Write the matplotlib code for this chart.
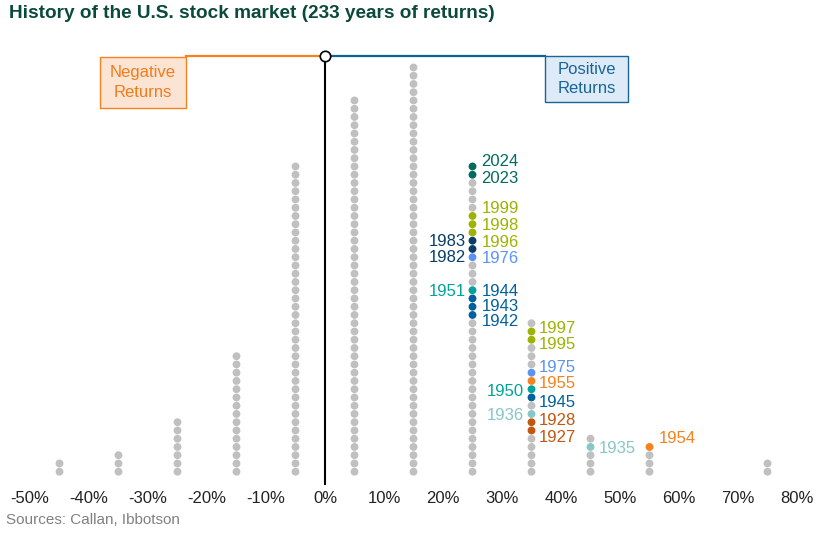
import matplotlib.pyplot as plt
from matplotlib.patches import Rectangle

# return bins (centre of each 10% band) and how many years fell in each
bins = [-45, -35, -25, -15, -5, 5, 15, 25, 35, 45, 55, 75]
counts = [2, 3, 7, 15, 38, 46, 50, 38, 19, 5, 4, 2]

# highlighted years: bin and position counted from the top of the column
years = [2024, 2023, 1999, 1998, 1996, 1983, 1982, 1976, 1951, 1944, 1943, 1942,
         1997, 1995, 1975, 1955, 1950, 1945, 1936, 1928, 1927,
         1935, 1954]
year_bin = [25, 25, 25, 25, 25, 25, 25, 25, 25, 25, 25, 25,
            35, 35, 35, 35, 35, 35, 35, 35, 35,
            45, 55]
year_rank = [0, 1, 6, 7, 8, 9, 10, 11, 15, 16, 17, 18,
             1, 2, 6, 7, 8, 9, 11, 12, 13,
             1, 0]

tick_vals = list(range(-50, 81, 10))
tick_labels = ['%d%%' % v for v in tick_vals]

# colours
c_teal_dk = '#006B5E'
c_olive = '#9CB300'
c_navy = '#083E66'
c_sky = '#5B93F2'
c_teal = '#00A39A'
c_blue = '#00619C'
c_orange = '#F5821F'
c_mint = '#88C6C7'
c_brown = '#C2570E'
year_color = [c_teal_dk, c_teal_dk, c_olive, c_olive, c_olive, c_navy, c_navy, c_sky,
              c_teal, c_blue, c_blue, c_blue,
              c_olive, c_olive, c_sky, c_orange, c_teal, c_blue, c_mint, c_brown, c_brown,
              c_mint, c_orange]
# label placement in pixels (dx, dy down), side of column
lab_dx = [9, 9, 9, 9, 9, -7, -7, 9, -7, 9, 9, 9,
          7, 7, 7, 7, -8, 7, -8, 7, 7,
          8, 9]
lab_dy = [-5, 4, -7, 1, 10, 1, 9, 1, 1, -7, 0, 7,
          -3, 5, -5, 3, 2, 5, 2, -2, 7,
          2, -8]

W, H = 839, 534
fig = plt.figure(figsize=(W / 100, H / 100), dpi=100)

def fx(x):
    return x / W

def fy(y):
    return 1 - y / H

ax = fig.add_axes([fx(30), fy(484), 767 / W, (484 - 56) / H])
ax.set_xlim(-50, 80)
ax.set_ylim(-1.49, 50.39)
for s in ax.spines.values():
    s.set_visible(False)
ax.set_yticks([])
ax.set_xticks(tick_vals)
ax.set_xticklabels(tick_labels, fontsize=12, color='#222222', family='Liberation Sans')
ax.tick_params(axis='x', length=0, pad=5)

hl = {}
for yr, b, r, c in zip(years, year_bin, year_rank, year_color):
    hl[(b, r)] = c

xs, ys, cs = [], [], []
for b, n in zip(bins, counts):
    for r in range(n):
        xs.append(b)
        ys.append(n - 1 - r)
        cs.append(hl.get((b, r), '#C0C0C0'))
ax.scatter(xs, ys, s=32, c=cs, linewidths=0, zorder=3)

cnt = dict(zip(bins, counts))
for yr, b, r, c, dx, dy in zip(years, year_bin, year_rank, year_color, lab_dx, lab_dy):
    ax.annotate(str(yr), xy=(b, cnt[b] - 1 - r), xytext=(dx, -dy),
                textcoords='offset pixels', ha='left' if dx > 0 else 'right',
                va='center', color=c, fontsize=12, family='Liberation Sans')

# zero line and the top bar
ax.plot([0, 0], [-1.49, 50.39], color='black', lw=1.5, zorder=2, clip_on=False)
ax.plot([fx(186), fx(325)], [fy(56), fy(56)], color='#F58220', lw=1.6,
        transform=fig.transFigure, clip_on=False, zorder=4)
ax.plot([fx(325), fx(545)], [fy(56), fy(56)], color='#0E6498', lw=1.6,
        transform=fig.transFigure, clip_on=False, zorder=4)
ax.plot([0], [50.39], marker='o', ms=7.5, mfc='white', mec='black', mew=1.2,
        clip_on=False, zorder=6)

narrow = ['Liberation Sans Narrow', 'Liberation Sans']
fig.add_artist(Rectangle((fx(100), fy(108)), 86 / W, 51 / H, transform=fig.transFigure,
                         facecolor='#FCE4D5', edgecolor='#F58220', lw=1.0))
fig.text(fx(143), fy(82.5), 'Negative\nReturns', ha='center', va='center',
         color='#F07C1A', fontsize=12, family=narrow, linespacing=1.35)
fig.add_artist(Rectangle((fx(545), fy(102)), 83 / W, 46 / H, transform=fig.transFigure,
                         facecolor='#DDEBF8', edgecolor='#1A6496', lw=1.0))
fig.text(fx(586.5), fy(79), 'Positive\nReturns', ha='center', va='center',
         color='#1A6496', fontsize=12, family=narrow, linespacing=1.3)

fig.text(fx(9), fy(14), 'History of the U.S. stock market (233 years of returns)',
         ha='left', va='center', fontsize=13.7, fontweight='bold', color='#0A4A3C',
         family=narrow)
fig.text(fx(6), fy(520), 'Sources: Callan, Ibbotson', ha='left', va='center',
         fontsize=11, color='#808080', family='Liberation Sans')

fig.savefig('out.png', dpi=100)
